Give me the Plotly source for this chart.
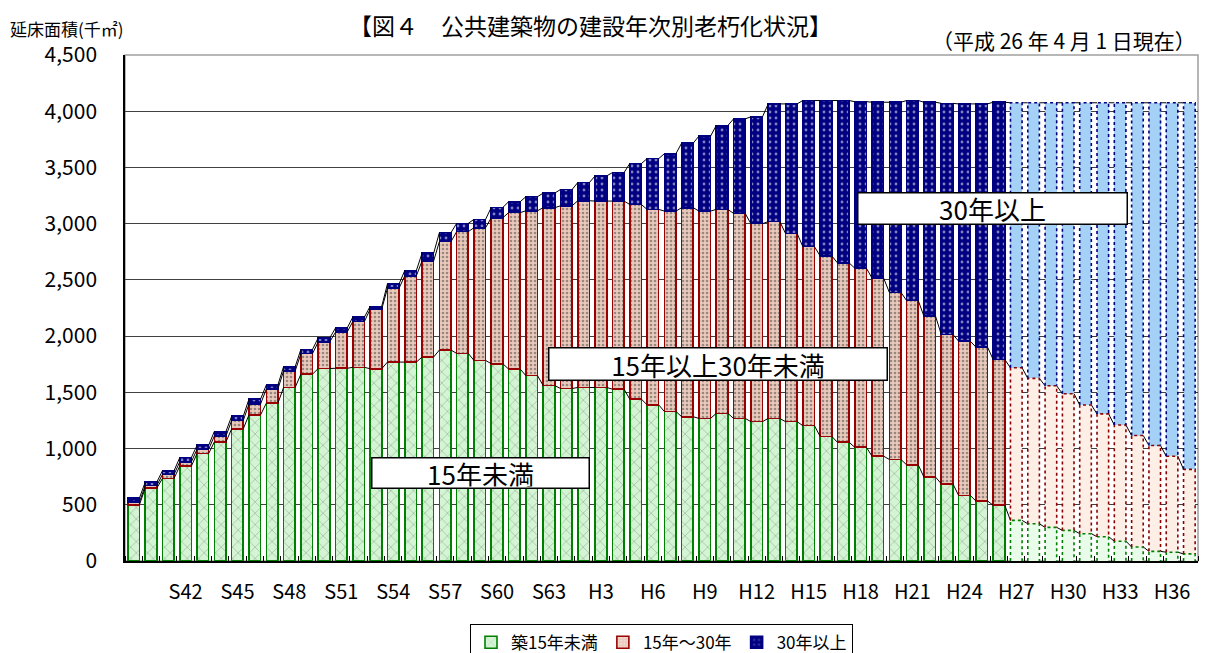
import plotly.graph_objects as go

# ---- data (延床面積, 千㎡) ----
year_labels = ([f"S{n}" for n in range(39, 64)] + [f"H{n}" for n in range(1, 38)])
tick_labels = ["S42", "S45", "S48", "S51", "S54", "S57", "S60", "S63", "H3", "H6",
               "H9", "H12", "H15", "H18", "H21", "H24", "H27", "H30", "H33", "H36"]

under15 = [500, 647, 735, 844, 956, 1059, 1176, 1300, 1403, 1544,
           1662, 1712, 1714, 1722, 1710, 1769, 1769, 1814, 1876, 1846,
           1784, 1754, 1707, 1648, 1560, 1534, 1543, 1543, 1528, 1440,
           1389, 1330, 1283, 1268, 1313, 1268, 1239, 1268, 1239, 1204,
           1109, 1056, 1012, 932, 903, 855, 746, 687, 584, 534,
           496, 361, 331, 299, 272, 243, 216, 176, 125, 86,
           78, 63]
from15to30 = [23, 23, 35, 38, 38, 53, 74, 97, 126, 147,
              182, 238, 321, 408, 530, 657, 767, 855, 964, 1083,
              1180, 1299, 1391, 1467, 1582, 1625, 1661, 1658, 1673, 1731,
              1738, 1782, 1859, 1844, 1814, 1823, 1761, 1750, 1675, 1592,
              1605, 1596, 1593, 1584, 1486, 1461, 1431, 1328, 1372, 1369,
              1296, 1357, 1293, 1259, 1216, 1145, 1092, 1033, 991, 941,
              854, 752]
over30 = [37, 30, 33, 38, 35, 41, 38, 44, 36, 38,
          38, 35, 37, 39, 25, 38, 47, 68, 80, 74,
          74, 92, 97, 125, 130, 145, 162, 224, 253, 363,
          451, 510, 575, 667, 746, 841, 950, 1047, 1151, 1299,
          1381, 1443, 1480, 1564, 1691, 1779, 1903, 2055, 2109, 2162,
          2288, 2357, 2451, 2517, 2587, 2687, 2767, 2866, 2959, 3048,
          3143, 3260]
first_projection = "H27"

# ---- derived ----
n = len(year_labels)
xs = list(range(n))
proj_start = year_labels.index(first_projection)
is_proj = [i >= proj_start for i in xs]
W = 0.67
tick_vals = [year_labels.index(t) for t in tick_labels]

FONT = "Noto Sans CJK JP"

def series_style(actual_bg, actual_fg, shape, psize, solid, proj_col, line_col):
    return dict(
        color=[proj_col if p else actual_bg for p in is_proj],
        line=dict(color=line_col, width=[0 if p else 1.6 for p in is_proj]),
        pattern=dict(shape=["" if p else shape for p in is_proj],
                     bgcolor=[proj_col if p else actual_bg for p in is_proj],
                     fgcolor=actual_fg, size=psize, solidity=solid,
                     fillmode="overlay"),
    )

fig = go.Figure()
fig.add_trace(go.Bar(x=xs, y=under15, width=W, name="築15年未満",
                     marker=series_style("#d3f5d3", "#9c9c9c", "x", 8, 0.12, "#e9fbe9", "#008000")))
fig.add_trace(go.Bar(x=xs, y=from15to30, width=W, name="15年～30年",
                     marker=series_style("#eacabc", "#fbf1ea", ".", 4, 0.35, "#fdefe6", "#990000")))
fig.add_trace(go.Bar(x=xs, y=over30, width=W, name="30年以上",
                     marker=series_style("#000080", "#7070c8", ".", 6, 0.18, "#a6d1f6", "#000080")))

# cumulative levels
c1 = under15
c2 = [a + b for a, b in zip(under15, from15to30)]
c3 = [a + b for a, b in zip(c2, over30)]

# series lines connecting bar tops
for c in (c1, c2, c3):
    lx, ly = [], []
    for i in range(n - 1):
        lx += [i + W / 2, i + 1 - W / 2, None]
        ly += [c[i], c[i + 1], None]
    fig.add_trace(go.Scatter(x=lx, y=ly, mode="lines", line=dict(color="#000000", width=1),
                             showlegend=False, hoverinfo="skip"))

# dashed outlines of projected bars
for base, top, col in (([0] * n, c1, "#008000"), (c1, c2, "#8b0000"), (c2, c3, "#000080")):
    lx, ly = [], []
    for i in xs:
        if is_proj[i]:
            lx += [i - W / 2, i - W / 2, i + W / 2, i + W / 2, None]
            ly += [base[i], top[i], top[i], base[i], None]
    fig.add_trace(go.Scatter(x=lx, y=ly, mode="lines", line=dict(color=col, width=1.6, dash="dot"),
                             showlegend=False, hoverinfo="skip"))

fig.update_layout(
    width=1200, height=645,
    margin=dict(l=117, r=10, t=47, b=92, autoexpand=False),
    barmode="stack",
    plot_bgcolor="white", paper_bgcolor="white",
    font=dict(family=FONT, color="#000000"),
    showlegend=True,
    legend=dict(orientation="h", x=0.5, xanchor="center", y=-0.124, yanchor="top",
                bordercolor="#000000", borderwidth=1, font=dict(size=17, family=FONT),
                itemwidth=30, traceorder="normal", tracegroupgap=0),
    xaxis=dict(range=[-0.5, n - 0.5], tickmode="array", tickvals=tick_vals, ticktext=tick_labels,
               ticks="", showgrid=False, zeroline=False, showline=True, linecolor="#000000", linewidth=1.5,
               tickfont=dict(size=20, family=FONT), ticklabelstandoff=12, automargin=False,
               minor=dict(tick0=-0.5, dtick=1, ticks="inside", ticklen=5, tickcolor="#000000", showgrid=False)),
    yaxis=dict(range=[0, 4500], dtick=500, tickformat=",", showgrid=True, gridcolor="#404040", gridwidth=1,
               zeroline=False, showline=True, linecolor="#000000", linewidth=1.5, ticks="",
               tickfont=dict(size=21, family=FONT), ticklabelstandoff=22, automargin=False),
    shapes=[dict(type="rect", xref="x domain", yref="y domain", x0=0, x1=1, y0=0, y1=1,
                 line=dict(color="#a0a0a0", width=1.5), layer="below")],
    annotations=[
        dict(text="【図４　公共建築物の建設年次別老朽化状況】", xref="paper", yref="paper",
             x=0.434, y=1.0, yshift=30, xanchor="center", yanchor="middle", showarrow=False,
             font=dict(size=23, family=FONT), borderpad=0),
        dict(text="（平成 26 年 4 月 1 日現在）", xref="paper", yref="paper",
             x=1.0, y=1.0, yshift=15, xanchor="right", yanchor="middle", showarrow=False,
             font=dict(size=21, family=FONT)),
        dict(text="延床面積(千㎡)", xref="paper", yref="paper",
             x=0, y=1.0, xshift=-116, yshift=27, xanchor="left", yanchor="middle", showarrow=False,
             font=dict(size=17, family=FONT), borderpad=0),
        dict(text="15年未満", x=20.07, y=782, xref="x", yref="y", showarrow=False,
             width=214, height=27, bgcolor="white", bordercolor="#000000", borderwidth=1.5,
             font=dict(size=26, family=FONT)),
        dict(text="15年以上30年未満", x=33.74, y=1748, xref="x", yref="y", showarrow=False,
             width=335, height=29, bgcolor="white", bordercolor="#000000", borderwidth=1.5,
             font=dict(size=26, family=FONT)),
        dict(text="30年以上", x=49.6, y=3139, xref="x", yref="y", showarrow=False,
             width=266, height=28, bgcolor="white", bordercolor="#000000", borderwidth=1.5,
             font=dict(size=26, family=FONT)),
    ],
)

fig.write_html("out.html")
